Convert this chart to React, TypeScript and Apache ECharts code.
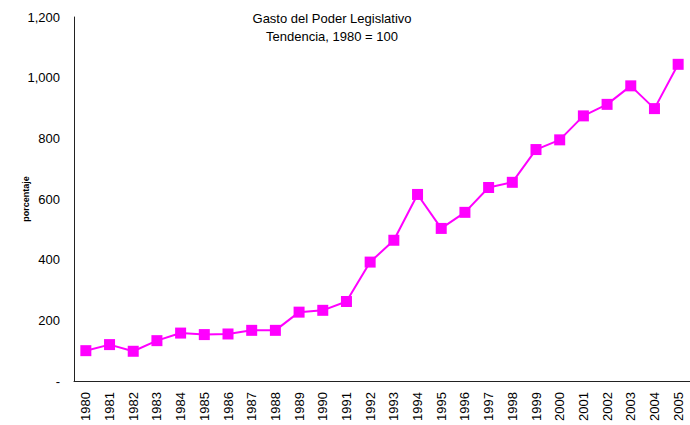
import React, { useEffect, useRef } from "react";
import * as echarts from "echarts";

const years = ["1980","1981","1982","1983","1984","1985","1986","1987","1988","1989","1990","1991","1992","1993","1994","1995","1996","1997","1998","1999","2000","2001","2002","2003","2004","2005"];
const gasto = [100,120,98,133,158,153,155,167,167,227,233,262,392,464,615,503,556,638,655,763,795,874,912,973,898,1044];
const titleLines = ["Gasto del Poder Legislativo", "Tendencia, 1980 = 100"];
const yAxisName = "porcentaje";

export default function App() {
  const ref = useRef<HTMLDivElement>(null);
  useEffect(() => {
    if (!ref.current) return;
    const chart = echarts.init(ref.current, null, { renderer: "svg" });
    const font = "Liberation Sans, Arial, sans-serif";
    chart.setOption({
      animation: false,
      backgroundColor: "#ffffff",
      title: {
        text: titleLines.join("\n"),
        left: 327,
        top: 4,
        textAlign: "center",
        textStyle: { fontFamily: font, fontSize: 13, fontWeight: "normal", color: "#000", lineHeight: 18 },
      },
      grid: { left: 74, right: -1, top: 17, bottom: 44, containLabel: false },
      xAxis: {
        type: "category",
        data: years,
        boundaryGap: true,
        axisLine: { lineStyle: { color: "#222", width: 1 } },
        axisTick: { show: false },
        axisLabel: { rotate: 90, fontFamily: font, fontSize: 13, color: "#000", margin: 11 },
      },
      yAxis: {
        type: "value",
        min: 0,
        max: 1200,
        interval: 200,
        name: yAxisName,
        nameLocation: "middle",
        nameGap: 44,
        nameMoveOverlap: false,
        nameTextStyle: { fontFamily: font, fontSize: 9, fontWeight: "bold", color: "#000" },
        axisLine: { show: true, lineStyle: { color: "#222", width: 1 } },
        axisTick: { show: false },
        splitLine: { show: false },
        axisLabel: {
          fontFamily: font,
          fontSize: 13,
          color: "#000",
          margin: 14,
          formatter: (v: number) => (v === 0 ? "-" : v.toLocaleString("en-US")),
        },
      },
      series: [
        {
          type: "line",
          data: gasto,
          symbol: "rect",
          symbolSize: 11,
          lineStyle: { color: "#ff00ff", width: 2 },
          itemStyle: { color: "#ff00ff" },
        },
      ],
    });
    return () => chart.dispose();
  }, []);
  return <div ref={ref} style={{ position: "absolute", left: 0, top: 0, width: 690, height: 425 }} />;
}
